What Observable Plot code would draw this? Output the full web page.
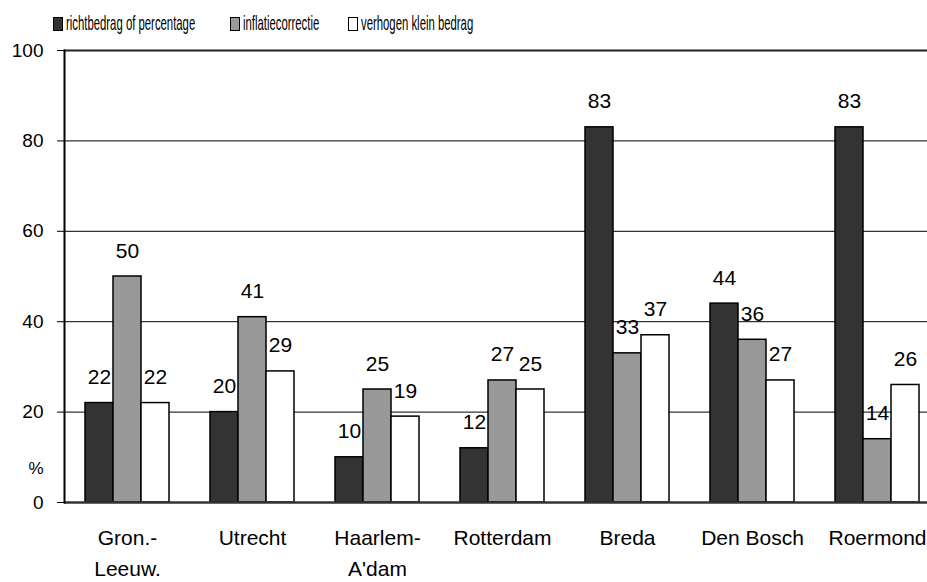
<!DOCTYPE html>
<html>
<head>
<meta charset="utf-8">
<script src="https://cdn.jsdelivr.net/npm/d3@7"></script>
<script src="https://cdn.jsdelivr.net/npm/@observablehq/plot@0.6"></script>
<style>
  html, body { margin: 0; padding: 0; background: #fff; }
  #legend { position: relative; width: 927px; height: 40px; font-family: "Liberation Sans", Arial, sans-serif; }
  .sw { position: absolute; top: 17px; width: 8px; height: 12px; border: 1.5px solid #000; }
  .lt { position: absolute; top: 10px; font-size: 21px; line-height: 26px; white-space: nowrap; transform: scaleX(0.54); transform-origin: 0 0; color: #000; }
</style>
</head>
<body>
<div id="legend"></div>
<div id="chart"></div>
<script>
// ---- data ----
const groups = ["Gron.-\nLeeuw.", "Utrecht", "Haarlem-\nA'dam", "Rotterdam", "Breda", "Den Bosch", "Roermond"];
const series = ["richtbedrag of percentage", "inflatiecorrectie", "verhogen klein bedrag"];
const richtbedrag = [22, 20, 10, 12, 83, 44, 83];
const inflatiecorrectie = [50, 41, 25, 27, 33, 36, 14];
const verhogenKlein = [22, 29, 19, 25, 37, 27, 26];
const yTicks = [0, 20, 40, 60, 80, 100];

// ---- styles ----
const colors = ["#333333", "#999999", "#ffffff"];
const legendX = [53, 230, 348];
const barW = 28;

const valuesBySeries = [richtbedrag, inflatiecorrectie, verhogenKlein];
const rows = [];
series.forEach((s, i) => groups.forEach((g, j) => rows.push({group: g, series: s, idx: i, value: valuesBySeries[i][j]})));

// legend
const legend = document.getElementById("legend");
series.forEach((s, i) => {
  const sw = document.createElement("div");
  sw.className = "sw";
  sw.style.left = legendX[i] + "px";
  sw.style.background = colors[i];
  legend.appendChild(sw);
  const t = document.createElement("div");
  t.className = "lt";
  t.style.left = (legendX[i] + 13) + "px";
  t.textContent = s;
  legend.appendChild(t);
});

const barMarks = series.map((s, i) => Plot.barY(rows.filter(d => d.idx === i), {
  x: "group", y: "value", fill: colors[i], stroke: "#000", strokeWidth: 1.5,
  insetLeft: i * barW, insetRight: (2 - i) * barW
}));
const labelMarks = series.map((s, i) => Plot.text(rows.filter(d => d.idx === i), {
  x: "group", y: "value", text: d => String(d.value), dx: (i - 1) * barW, dy: -19,
  lineAnchor: "bottom", fontSize: 21, fill: "#000"
}));

const chart = Plot.plot({
  width: 927,
  height: 542,
  marginTop: 10,
  marginBottom: 80,
  marginLeft: 64,
  marginRight: 0,
  style: {fontFamily: "'Liberation Sans', Arial, sans-serif", fontSize: "19px", color: "#000", background: "#fff", overflow: "visible"},
  x: {domain: groups, range: [64, 939], paddingInner: 0.328, paddingOuter: 0.164, align: 0.5, label: null},
  y: {domain: [0, 100], ticks: yTicks, label: null},
  marks: [
    Plot.ruleY([20, 40, 60, 80], {stroke: "#000", strokeWidth: 1}),
    Plot.ruleY([100], {stroke: "#222", strokeWidth: 2}),
    ...barMarks,
    Plot.ruleY([0], {stroke: "#333", strokeWidth: 2.5}),
    Plot.frame({anchor: "left", stroke: "#000", strokeWidth: 2}),
    ...labelMarks,
    Plot.axisY({ticks: yTicks, tickSize: 7, tickPadding: 14, fontSize: 19, label: null, stroke: "#000"}),
    Plot.axisX({tickSize: 0, tickPadding: 20, fontSize: 21, lineHeight: 1.5, label: null}),
    Plot.text(["%"], {frameAnchor: "bottom-left", dx: -36, dy: -29, fontSize: 17, fill: "#000"})
  ]
});
document.getElementById("chart").appendChild(chart);
</script>
</body>
</html>
